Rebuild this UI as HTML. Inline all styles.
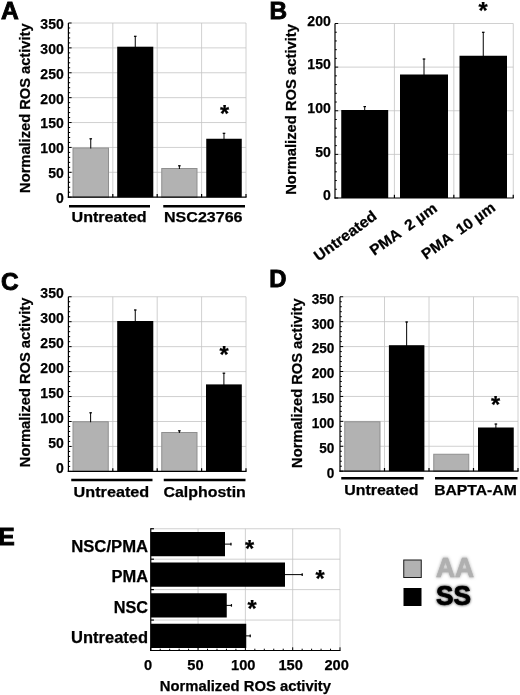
<!DOCTYPE html>
<html><head><meta charset="utf-8"><title>ROS activity</title>
<style>
html,body{margin:0;padding:0;background:#fff;}
body{width:520px;height:695px;overflow:hidden;}
svg{display:block;filter:blur(0.35px);}
svg text{font-family:"Liberation Sans",sans-serif;font-weight:bold;stroke:#000;stroke-width:0.25px;}
</style></head><body>
<svg width="520" height="695" viewBox="0 0 520 695">
<defs><filter id="blur1" x="-20%" y="-20%" width="140%" height="140%"><feGaussianBlur stdDeviation="1.6"/></filter></defs>
<rect x="0" y="0" width="520" height="695" fill="#fff"/>
<line x1="68.40" y1="172.31" x2="246.00" y2="172.31" stroke="#c4c4c4" stroke-width="0.8"/>
<line x1="68.40" y1="147.43" x2="246.00" y2="147.43" stroke="#c4c4c4" stroke-width="0.8"/>
<line x1="68.40" y1="122.54" x2="246.00" y2="122.54" stroke="#c4c4c4" stroke-width="0.8"/>
<line x1="68.40" y1="97.66" x2="246.00" y2="97.66" stroke="#c4c4c4" stroke-width="0.8"/>
<line x1="68.40" y1="72.77" x2="246.00" y2="72.77" stroke="#c4c4c4" stroke-width="0.8"/>
<line x1="68.40" y1="47.89" x2="246.00" y2="47.89" stroke="#c4c4c4" stroke-width="0.8"/>
<line x1="68.40" y1="23.00" x2="246.00" y2="23.00" stroke="#c4c4c4" stroke-width="0.8"/>
<line x1="112.80" y1="23.00" x2="112.80" y2="197.20" stroke="#c4c4c4" stroke-width="0.8"/>
<line x1="157.20" y1="23.00" x2="157.20" y2="197.20" stroke="#c4c4c4" stroke-width="0.8"/>
<line x1="201.60" y1="23.00" x2="201.60" y2="197.20" stroke="#c4c4c4" stroke-width="0.8"/>
<line x1="246.00" y1="23.00" x2="246.00" y2="197.20" stroke="#c4c4c4" stroke-width="0.8"/>
<rect x="73.00" y="148.00" width="35.50" height="49.20" fill="#b2b2b2" stroke="#8f8f8f" stroke-width="1"/>
<line x1="90.75" y1="148.50" x2="90.75" y2="138.50" stroke="#000" stroke-width="1"/>
<line x1="89.45" y1="138.80" x2="92.05" y2="138.80" stroke="#000" stroke-width="1.2"/>
<rect x="117.20" y="46.70" width="36.10" height="150.50" fill="#000"/>
<line x1="135.25" y1="47.70" x2="135.25" y2="36.00" stroke="#000" stroke-width="1"/>
<line x1="133.95" y1="36.30" x2="136.55" y2="36.30" stroke="#000" stroke-width="1.2"/>
<rect x="161.75" y="168.50" width="35.25" height="28.70" fill="#b2b2b2" stroke="#8f8f8f" stroke-width="1"/>
<line x1="179.38" y1="169.00" x2="179.38" y2="165.50" stroke="#000" stroke-width="1"/>
<line x1="178.07" y1="165.80" x2="180.68" y2="165.80" stroke="#000" stroke-width="1.2"/>
<rect x="206.25" y="138.75" width="35.50" height="58.45" fill="#000"/>
<line x1="224.00" y1="139.75" x2="224.00" y2="133.00" stroke="#000" stroke-width="1"/>
<line x1="222.70" y1="133.30" x2="225.30" y2="133.30" stroke="#000" stroke-width="1.2"/>
<line x1="68.40" y1="23.00" x2="68.40" y2="197.80" stroke="#000" stroke-width="1.2"/>
<line x1="67.80" y1="197.20" x2="246.50" y2="197.20" stroke="#000" stroke-width="1.2"/>
<line x1="68.40" y1="197.20" x2="71.60" y2="197.20" stroke="#000" stroke-width="1"/>
<line x1="68.40" y1="192.22" x2="70.20" y2="192.22" stroke="#000" stroke-width="1"/>
<line x1="68.40" y1="187.25" x2="70.20" y2="187.25" stroke="#000" stroke-width="1"/>
<line x1="68.40" y1="182.27" x2="70.20" y2="182.27" stroke="#000" stroke-width="1"/>
<line x1="68.40" y1="177.29" x2="70.20" y2="177.29" stroke="#000" stroke-width="1"/>
<line x1="68.40" y1="172.31" x2="71.60" y2="172.31" stroke="#000" stroke-width="1"/>
<line x1="68.40" y1="167.34" x2="70.20" y2="167.34" stroke="#000" stroke-width="1"/>
<line x1="68.40" y1="162.36" x2="70.20" y2="162.36" stroke="#000" stroke-width="1"/>
<line x1="68.40" y1="157.38" x2="70.20" y2="157.38" stroke="#000" stroke-width="1"/>
<line x1="68.40" y1="152.41" x2="70.20" y2="152.41" stroke="#000" stroke-width="1"/>
<line x1="68.40" y1="147.43" x2="71.60" y2="147.43" stroke="#000" stroke-width="1"/>
<line x1="68.40" y1="142.45" x2="70.20" y2="142.45" stroke="#000" stroke-width="1"/>
<line x1="68.40" y1="137.47" x2="70.20" y2="137.47" stroke="#000" stroke-width="1"/>
<line x1="68.40" y1="132.50" x2="70.20" y2="132.50" stroke="#000" stroke-width="1"/>
<line x1="68.40" y1="127.52" x2="70.20" y2="127.52" stroke="#000" stroke-width="1"/>
<line x1="68.40" y1="122.54" x2="71.60" y2="122.54" stroke="#000" stroke-width="1"/>
<line x1="68.40" y1="117.57" x2="70.20" y2="117.57" stroke="#000" stroke-width="1"/>
<line x1="68.40" y1="112.59" x2="70.20" y2="112.59" stroke="#000" stroke-width="1"/>
<line x1="68.40" y1="107.61" x2="70.20" y2="107.61" stroke="#000" stroke-width="1"/>
<line x1="68.40" y1="102.63" x2="70.20" y2="102.63" stroke="#000" stroke-width="1"/>
<line x1="68.40" y1="97.66" x2="71.60" y2="97.66" stroke="#000" stroke-width="1"/>
<line x1="68.40" y1="92.68" x2="70.20" y2="92.68" stroke="#000" stroke-width="1"/>
<line x1="68.40" y1="87.70" x2="70.20" y2="87.70" stroke="#000" stroke-width="1"/>
<line x1="68.40" y1="82.73" x2="70.20" y2="82.73" stroke="#000" stroke-width="1"/>
<line x1="68.40" y1="77.75" x2="70.20" y2="77.75" stroke="#000" stroke-width="1"/>
<line x1="68.40" y1="72.77" x2="71.60" y2="72.77" stroke="#000" stroke-width="1"/>
<line x1="68.40" y1="67.79" x2="70.20" y2="67.79" stroke="#000" stroke-width="1"/>
<line x1="68.40" y1="62.82" x2="70.20" y2="62.82" stroke="#000" stroke-width="1"/>
<line x1="68.40" y1="57.84" x2="70.20" y2="57.84" stroke="#000" stroke-width="1"/>
<line x1="68.40" y1="52.86" x2="70.20" y2="52.86" stroke="#000" stroke-width="1"/>
<line x1="68.40" y1="47.89" x2="71.60" y2="47.89" stroke="#000" stroke-width="1"/>
<line x1="68.40" y1="42.91" x2="70.20" y2="42.91" stroke="#000" stroke-width="1"/>
<line x1="68.40" y1="37.93" x2="70.20" y2="37.93" stroke="#000" stroke-width="1"/>
<line x1="68.40" y1="32.95" x2="70.20" y2="32.95" stroke="#000" stroke-width="1"/>
<line x1="68.40" y1="27.98" x2="70.20" y2="27.98" stroke="#000" stroke-width="1"/>
<line x1="68.40" y1="23.00" x2="71.60" y2="23.00" stroke="#000" stroke-width="1"/>
<line x1="112.80" y1="197.20" x2="112.80" y2="194.00" stroke="#000" stroke-width="1.2"/>
<line x1="157.20" y1="197.20" x2="157.20" y2="194.00" stroke="#000" stroke-width="1.2"/>
<line x1="201.60" y1="197.20" x2="201.60" y2="194.00" stroke="#000" stroke-width="1.2"/>
<line x1="246.00" y1="197.20" x2="246.00" y2="194.00" stroke="#000" stroke-width="1.2"/>
<text x="63.75" y="203.10" font-size="15" text-anchor="end" textLength="7.80" lengthAdjust="spacingAndGlyphs" fill="#000">0</text>
<text x="63.75" y="178.21" font-size="15" text-anchor="end" textLength="15.60" lengthAdjust="spacingAndGlyphs" fill="#000">50</text>
<text x="63.75" y="153.33" font-size="15" text-anchor="end" textLength="23.40" lengthAdjust="spacingAndGlyphs" fill="#000">100</text>
<text x="63.75" y="128.44" font-size="15" text-anchor="end" textLength="23.40" lengthAdjust="spacingAndGlyphs" fill="#000">150</text>
<text x="63.75" y="103.56" font-size="15" text-anchor="end" textLength="23.40" lengthAdjust="spacingAndGlyphs" fill="#000">200</text>
<text x="63.75" y="78.67" font-size="15" text-anchor="end" textLength="23.40" lengthAdjust="spacingAndGlyphs" fill="#000">250</text>
<text x="63.75" y="53.79" font-size="15" text-anchor="end" textLength="23.40" lengthAdjust="spacingAndGlyphs" fill="#000">300</text>
<text x="63.75" y="28.90" font-size="15" text-anchor="end" textLength="23.40" lengthAdjust="spacingAndGlyphs" fill="#000">350</text>
<text x="224.50" y="122.28" font-size="23.5" text-anchor="middle" fill="#000">*</text>
<line x1="69.00" y1="206.30" x2="150.00" y2="206.30" stroke="#000" stroke-width="2.5"/>
<line x1="163.25" y1="206.30" x2="245.00" y2="206.30" stroke="#000" stroke-width="2.5"/>
<text x="71.50" y="222.30" font-size="15.5" text-anchor="start" textLength="75.20" lengthAdjust="spacingAndGlyphs" fill="#000">Untreated</text>
<text x="164.00" y="222.20" font-size="15.5" text-anchor="start" textLength="78.50" lengthAdjust="spacingAndGlyphs" fill="#000">NSC23766</text>
<text transform="translate(30.30,192.90) rotate(-90)" font-size="15.2" textLength="169.50" lengthAdjust="spacingAndGlyphs">Normalized ROS activity</text>
<text x="0.90" y="19.30" font-size="24.8" text-anchor="start" textLength="17.80" lengthAdjust="spacingAndGlyphs" fill="#000" style="stroke-width:0.9px">A</text>
<line x1="335.00" y1="154.38" x2="513.25" y2="154.38" stroke="#c4c4c4" stroke-width="0.8"/>
<line x1="335.00" y1="110.75" x2="513.25" y2="110.75" stroke="#c4c4c4" stroke-width="0.8"/>
<line x1="335.00" y1="67.12" x2="513.25" y2="67.12" stroke="#c4c4c4" stroke-width="0.8"/>
<line x1="335.00" y1="23.50" x2="513.25" y2="23.50" stroke="#c4c4c4" stroke-width="0.8"/>
<line x1="394.42" y1="23.50" x2="394.42" y2="198.00" stroke="#c4c4c4" stroke-width="0.8"/>
<line x1="453.83" y1="23.50" x2="453.83" y2="198.00" stroke="#c4c4c4" stroke-width="0.8"/>
<line x1="513.25" y1="23.50" x2="513.25" y2="198.00" stroke="#c4c4c4" stroke-width="0.8"/>
<rect x="341.25" y="110.00" width="46.95" height="88.00" fill="#000"/>
<line x1="364.73" y1="111.00" x2="364.73" y2="106.30" stroke="#000" stroke-width="1"/>
<line x1="363.43" y1="106.60" x2="366.03" y2="106.60" stroke="#000" stroke-width="1.2"/>
<rect x="400.00" y="74.50" width="48.00" height="123.50" fill="#000"/>
<line x1="424.00" y1="75.50" x2="424.00" y2="58.75" stroke="#000" stroke-width="1"/>
<line x1="422.70" y1="59.05" x2="425.30" y2="59.05" stroke="#000" stroke-width="1.2"/>
<rect x="459.50" y="55.75" width="47.50" height="142.25" fill="#000"/>
<line x1="483.25" y1="56.75" x2="483.25" y2="32.00" stroke="#000" stroke-width="1"/>
<line x1="481.95" y1="32.30" x2="484.55" y2="32.30" stroke="#000" stroke-width="1.2"/>
<line x1="335.00" y1="23.50" x2="335.00" y2="198.60" stroke="#000" stroke-width="1.2"/>
<line x1="334.40" y1="198.00" x2="513.75" y2="198.00" stroke="#000" stroke-width="1.2"/>
<line x1="335.00" y1="198.00" x2="338.20" y2="198.00" stroke="#000" stroke-width="1"/>
<line x1="335.00" y1="189.28" x2="336.80" y2="189.28" stroke="#000" stroke-width="1"/>
<line x1="335.00" y1="180.55" x2="336.80" y2="180.55" stroke="#000" stroke-width="1"/>
<line x1="335.00" y1="171.82" x2="336.80" y2="171.82" stroke="#000" stroke-width="1"/>
<line x1="335.00" y1="163.10" x2="336.80" y2="163.10" stroke="#000" stroke-width="1"/>
<line x1="335.00" y1="154.38" x2="338.20" y2="154.38" stroke="#000" stroke-width="1"/>
<line x1="335.00" y1="145.65" x2="336.80" y2="145.65" stroke="#000" stroke-width="1"/>
<line x1="335.00" y1="136.93" x2="336.80" y2="136.93" stroke="#000" stroke-width="1"/>
<line x1="335.00" y1="128.20" x2="336.80" y2="128.20" stroke="#000" stroke-width="1"/>
<line x1="335.00" y1="119.47" x2="336.80" y2="119.47" stroke="#000" stroke-width="1"/>
<line x1="335.00" y1="110.75" x2="338.20" y2="110.75" stroke="#000" stroke-width="1"/>
<line x1="335.00" y1="102.03" x2="336.80" y2="102.03" stroke="#000" stroke-width="1"/>
<line x1="335.00" y1="93.30" x2="336.80" y2="93.30" stroke="#000" stroke-width="1"/>
<line x1="335.00" y1="84.58" x2="336.80" y2="84.58" stroke="#000" stroke-width="1"/>
<line x1="335.00" y1="75.85" x2="336.80" y2="75.85" stroke="#000" stroke-width="1"/>
<line x1="335.00" y1="67.12" x2="338.20" y2="67.12" stroke="#000" stroke-width="1"/>
<line x1="335.00" y1="58.40" x2="336.80" y2="58.40" stroke="#000" stroke-width="1"/>
<line x1="335.00" y1="49.68" x2="336.80" y2="49.68" stroke="#000" stroke-width="1"/>
<line x1="335.00" y1="40.95" x2="336.80" y2="40.95" stroke="#000" stroke-width="1"/>
<line x1="335.00" y1="32.22" x2="336.80" y2="32.22" stroke="#000" stroke-width="1"/>
<line x1="335.00" y1="23.50" x2="338.20" y2="23.50" stroke="#000" stroke-width="1"/>
<line x1="394.42" y1="198.00" x2="394.42" y2="194.80" stroke="#000" stroke-width="1.2"/>
<line x1="453.83" y1="198.00" x2="453.83" y2="194.80" stroke="#000" stroke-width="1.2"/>
<line x1="513.25" y1="198.00" x2="513.25" y2="194.80" stroke="#000" stroke-width="1.2"/>
<text x="330.75" y="200.30" font-size="15" text-anchor="end" textLength="7.80" lengthAdjust="spacingAndGlyphs" fill="#000">0</text>
<text x="330.75" y="156.68" font-size="15" text-anchor="end" textLength="15.60" lengthAdjust="spacingAndGlyphs" fill="#000">50</text>
<text x="330.75" y="113.05" font-size="15" text-anchor="end" textLength="23.40" lengthAdjust="spacingAndGlyphs" fill="#000">100</text>
<text x="330.75" y="69.43" font-size="15" text-anchor="end" textLength="23.40" lengthAdjust="spacingAndGlyphs" fill="#000">150</text>
<text x="330.75" y="25.80" font-size="15" text-anchor="end" textLength="23.40" lengthAdjust="spacingAndGlyphs" fill="#000">200</text>
<text x="483.00" y="18.78" font-size="23.5" text-anchor="middle" fill="#000">*</text>
<text transform="translate(296.40,194.80) rotate(-90)" font-size="15.2" textLength="170.80" lengthAdjust="spacingAndGlyphs">Normalized ROS activity</text>
<text x="269.40" y="19.40" font-size="24.8" text-anchor="start" textLength="17.60" lengthAdjust="spacingAndGlyphs" fill="#000" style="stroke-width:0.9px">B</text>
<text transform="translate(318.50,261.70) rotate(-36.3)" font-size="15" textLength="73.60" lengthAdjust="spacingAndGlyphs" xml:space="preserve">Untreated</text>
<text transform="translate(374.20,256.10) rotate(-35.5)" font-size="15" textLength="78.60" lengthAdjust="spacingAndGlyphs" xml:space="preserve">PMA  2 µm</text>
<text transform="translate(426.00,260.00) rotate(-35.5)" font-size="15" textLength="86.60" lengthAdjust="spacingAndGlyphs" xml:space="preserve">PMA  10 µm</text>
<line x1="68.40" y1="446.45" x2="246.00" y2="446.45" stroke="#c4c4c4" stroke-width="0.8"/>
<line x1="68.40" y1="421.50" x2="246.00" y2="421.50" stroke="#c4c4c4" stroke-width="0.8"/>
<line x1="68.40" y1="396.55" x2="246.00" y2="396.55" stroke="#c4c4c4" stroke-width="0.8"/>
<line x1="68.40" y1="371.60" x2="246.00" y2="371.60" stroke="#c4c4c4" stroke-width="0.8"/>
<line x1="68.40" y1="346.65" x2="246.00" y2="346.65" stroke="#c4c4c4" stroke-width="0.8"/>
<line x1="68.40" y1="321.70" x2="246.00" y2="321.70" stroke="#c4c4c4" stroke-width="0.8"/>
<line x1="68.40" y1="296.75" x2="246.00" y2="296.75" stroke="#c4c4c4" stroke-width="0.8"/>
<line x1="112.80" y1="296.75" x2="112.80" y2="471.40" stroke="#c4c4c4" stroke-width="0.8"/>
<line x1="157.20" y1="296.75" x2="157.20" y2="471.40" stroke="#c4c4c4" stroke-width="0.8"/>
<line x1="201.60" y1="296.75" x2="201.60" y2="471.40" stroke="#c4c4c4" stroke-width="0.8"/>
<line x1="246.00" y1="296.75" x2="246.00" y2="471.40" stroke="#c4c4c4" stroke-width="0.8"/>
<rect x="73.00" y="421.75" width="35.25" height="49.65" fill="#b2b2b2" stroke="#8f8f8f" stroke-width="1"/>
<line x1="90.62" y1="422.25" x2="90.62" y2="412.50" stroke="#000" stroke-width="1"/>
<line x1="89.33" y1="412.80" x2="91.92" y2="412.80" stroke="#000" stroke-width="1.2"/>
<rect x="117.20" y="321.00" width="36.10" height="150.40" fill="#000"/>
<line x1="135.25" y1="322.00" x2="135.25" y2="309.70" stroke="#000" stroke-width="1"/>
<line x1="133.95" y1="310.00" x2="136.55" y2="310.00" stroke="#000" stroke-width="1.2"/>
<rect x="161.75" y="432.50" width="35.25" height="38.90" fill="#b2b2b2" stroke="#8f8f8f" stroke-width="1"/>
<line x1="179.38" y1="433.00" x2="179.38" y2="430.50" stroke="#000" stroke-width="1"/>
<line x1="178.07" y1="430.80" x2="180.68" y2="430.80" stroke="#000" stroke-width="1.2"/>
<rect x="206.00" y="384.40" width="35.80" height="87.00" fill="#000"/>
<line x1="223.90" y1="385.40" x2="223.90" y2="372.90" stroke="#000" stroke-width="1"/>
<line x1="222.60" y1="373.20" x2="225.20" y2="373.20" stroke="#000" stroke-width="1.2"/>
<line x1="68.40" y1="296.75" x2="68.40" y2="472.00" stroke="#000" stroke-width="1.2"/>
<line x1="67.80" y1="471.40" x2="246.50" y2="471.40" stroke="#000" stroke-width="1.2"/>
<line x1="68.40" y1="471.40" x2="71.60" y2="471.40" stroke="#000" stroke-width="1"/>
<line x1="68.40" y1="466.41" x2="70.20" y2="466.41" stroke="#000" stroke-width="1"/>
<line x1="68.40" y1="461.42" x2="70.20" y2="461.42" stroke="#000" stroke-width="1"/>
<line x1="68.40" y1="456.43" x2="70.20" y2="456.43" stroke="#000" stroke-width="1"/>
<line x1="68.40" y1="451.44" x2="70.20" y2="451.44" stroke="#000" stroke-width="1"/>
<line x1="68.40" y1="446.45" x2="71.60" y2="446.45" stroke="#000" stroke-width="1"/>
<line x1="68.40" y1="441.46" x2="70.20" y2="441.46" stroke="#000" stroke-width="1"/>
<line x1="68.40" y1="436.47" x2="70.20" y2="436.47" stroke="#000" stroke-width="1"/>
<line x1="68.40" y1="431.48" x2="70.20" y2="431.48" stroke="#000" stroke-width="1"/>
<line x1="68.40" y1="426.49" x2="70.20" y2="426.49" stroke="#000" stroke-width="1"/>
<line x1="68.40" y1="421.50" x2="71.60" y2="421.50" stroke="#000" stroke-width="1"/>
<line x1="68.40" y1="416.51" x2="70.20" y2="416.51" stroke="#000" stroke-width="1"/>
<line x1="68.40" y1="411.52" x2="70.20" y2="411.52" stroke="#000" stroke-width="1"/>
<line x1="68.40" y1="406.53" x2="70.20" y2="406.53" stroke="#000" stroke-width="1"/>
<line x1="68.40" y1="401.54" x2="70.20" y2="401.54" stroke="#000" stroke-width="1"/>
<line x1="68.40" y1="396.55" x2="71.60" y2="396.55" stroke="#000" stroke-width="1"/>
<line x1="68.40" y1="391.56" x2="70.20" y2="391.56" stroke="#000" stroke-width="1"/>
<line x1="68.40" y1="386.57" x2="70.20" y2="386.57" stroke="#000" stroke-width="1"/>
<line x1="68.40" y1="381.58" x2="70.20" y2="381.58" stroke="#000" stroke-width="1"/>
<line x1="68.40" y1="376.59" x2="70.20" y2="376.59" stroke="#000" stroke-width="1"/>
<line x1="68.40" y1="371.60" x2="71.60" y2="371.60" stroke="#000" stroke-width="1"/>
<line x1="68.40" y1="366.61" x2="70.20" y2="366.61" stroke="#000" stroke-width="1"/>
<line x1="68.40" y1="361.62" x2="70.20" y2="361.62" stroke="#000" stroke-width="1"/>
<line x1="68.40" y1="356.63" x2="70.20" y2="356.63" stroke="#000" stroke-width="1"/>
<line x1="68.40" y1="351.64" x2="70.20" y2="351.64" stroke="#000" stroke-width="1"/>
<line x1="68.40" y1="346.65" x2="71.60" y2="346.65" stroke="#000" stroke-width="1"/>
<line x1="68.40" y1="341.66" x2="70.20" y2="341.66" stroke="#000" stroke-width="1"/>
<line x1="68.40" y1="336.67" x2="70.20" y2="336.67" stroke="#000" stroke-width="1"/>
<line x1="68.40" y1="331.68" x2="70.20" y2="331.68" stroke="#000" stroke-width="1"/>
<line x1="68.40" y1="326.69" x2="70.20" y2="326.69" stroke="#000" stroke-width="1"/>
<line x1="68.40" y1="321.70" x2="71.60" y2="321.70" stroke="#000" stroke-width="1"/>
<line x1="68.40" y1="316.71" x2="70.20" y2="316.71" stroke="#000" stroke-width="1"/>
<line x1="68.40" y1="311.72" x2="70.20" y2="311.72" stroke="#000" stroke-width="1"/>
<line x1="68.40" y1="306.73" x2="70.20" y2="306.73" stroke="#000" stroke-width="1"/>
<line x1="68.40" y1="301.74" x2="70.20" y2="301.74" stroke="#000" stroke-width="1"/>
<line x1="68.40" y1="296.75" x2="71.60" y2="296.75" stroke="#000" stroke-width="1"/>
<line x1="112.80" y1="471.40" x2="112.80" y2="468.20" stroke="#000" stroke-width="1.2"/>
<line x1="157.20" y1="471.40" x2="157.20" y2="468.20" stroke="#000" stroke-width="1.2"/>
<line x1="201.60" y1="471.40" x2="201.60" y2="468.20" stroke="#000" stroke-width="1.2"/>
<line x1="246.00" y1="471.40" x2="246.00" y2="468.20" stroke="#000" stroke-width="1.2"/>
<text x="63.75" y="473.00" font-size="15" text-anchor="end" textLength="7.80" lengthAdjust="spacingAndGlyphs" fill="#000">0</text>
<text x="63.75" y="448.05" font-size="15" text-anchor="end" textLength="15.60" lengthAdjust="spacingAndGlyphs" fill="#000">50</text>
<text x="63.75" y="423.10" font-size="15" text-anchor="end" textLength="23.40" lengthAdjust="spacingAndGlyphs" fill="#000">100</text>
<text x="63.75" y="398.15" font-size="15" text-anchor="end" textLength="23.40" lengthAdjust="spacingAndGlyphs" fill="#000">150</text>
<text x="63.75" y="373.20" font-size="15" text-anchor="end" textLength="23.40" lengthAdjust="spacingAndGlyphs" fill="#000">200</text>
<text x="63.75" y="348.25" font-size="15" text-anchor="end" textLength="23.40" lengthAdjust="spacingAndGlyphs" fill="#000">250</text>
<text x="63.75" y="323.30" font-size="15" text-anchor="end" textLength="23.40" lengthAdjust="spacingAndGlyphs" fill="#000">300</text>
<text x="63.75" y="298.35" font-size="15" text-anchor="end" textLength="23.40" lengthAdjust="spacingAndGlyphs" fill="#000">350</text>
<text x="224.00" y="363.28" font-size="23.5" text-anchor="middle" fill="#000">*</text>
<line x1="71.25" y1="480.00" x2="152.50" y2="480.00" stroke="#000" stroke-width="2.5"/>
<line x1="163.75" y1="480.00" x2="245.50" y2="480.00" stroke="#000" stroke-width="2.5"/>
<text x="73.60" y="497.00" font-size="15.5" text-anchor="start" textLength="75.60" lengthAdjust="spacingAndGlyphs" fill="#000">Untreated</text>
<text x="163.50" y="497.00" font-size="15.5" text-anchor="start" textLength="82.30" lengthAdjust="spacingAndGlyphs" fill="#000">Calphostin</text>
<text transform="translate(29.90,467.20) rotate(-90)" font-size="15.2" textLength="169.60" lengthAdjust="spacingAndGlyphs">Normalized ROS activity</text>
<text x="1.00" y="289.50" font-size="24.8" text-anchor="start" textLength="17.60" lengthAdjust="spacingAndGlyphs" fill="#000" style="stroke-width:0.9px">C</text>
<line x1="340.00" y1="446.28" x2="518.00" y2="446.28" stroke="#c4c4c4" stroke-width="0.8"/>
<line x1="340.00" y1="421.36" x2="518.00" y2="421.36" stroke="#c4c4c4" stroke-width="0.8"/>
<line x1="340.00" y1="396.44" x2="518.00" y2="396.44" stroke="#c4c4c4" stroke-width="0.8"/>
<line x1="340.00" y1="371.51" x2="518.00" y2="371.51" stroke="#c4c4c4" stroke-width="0.8"/>
<line x1="340.00" y1="346.59" x2="518.00" y2="346.59" stroke="#c4c4c4" stroke-width="0.8"/>
<line x1="340.00" y1="321.67" x2="518.00" y2="321.67" stroke="#c4c4c4" stroke-width="0.8"/>
<line x1="340.00" y1="296.75" x2="518.00" y2="296.75" stroke="#c4c4c4" stroke-width="0.8"/>
<line x1="384.50" y1="296.75" x2="384.50" y2="471.20" stroke="#c4c4c4" stroke-width="0.8"/>
<line x1="429.00" y1="296.75" x2="429.00" y2="471.20" stroke="#c4c4c4" stroke-width="0.8"/>
<line x1="473.50" y1="296.75" x2="473.50" y2="471.20" stroke="#c4c4c4" stroke-width="0.8"/>
<line x1="518.00" y1="296.75" x2="518.00" y2="471.20" stroke="#c4c4c4" stroke-width="0.8"/>
<rect x="344.75" y="421.75" width="35.25" height="49.45" fill="#b2b2b2" stroke="#8f8f8f" stroke-width="1"/>
<rect x="388.90" y="345.20" width="35.50" height="126.00" fill="#000"/>
<line x1="406.65" y1="346.20" x2="406.65" y2="321.70" stroke="#000" stroke-width="1"/>
<line x1="405.35" y1="322.00" x2="407.95" y2="322.00" stroke="#000" stroke-width="1.2"/>
<rect x="433.75" y="454.25" width="35.00" height="16.95" fill="#b2b2b2" stroke="#8f8f8f" stroke-width="1"/>
<rect x="478.00" y="427.50" width="35.75" height="43.70" fill="#000"/>
<line x1="495.88" y1="428.50" x2="495.88" y2="423.75" stroke="#000" stroke-width="1"/>
<line x1="494.57" y1="424.05" x2="497.18" y2="424.05" stroke="#000" stroke-width="1.2"/>
<line x1="340.00" y1="296.75" x2="340.00" y2="471.80" stroke="#000" stroke-width="1.2"/>
<line x1="339.40" y1="471.20" x2="518.50" y2="471.20" stroke="#000" stroke-width="1.2"/>
<line x1="340.00" y1="471.20" x2="343.20" y2="471.20" stroke="#000" stroke-width="1"/>
<line x1="340.00" y1="466.22" x2="341.80" y2="466.22" stroke="#000" stroke-width="1"/>
<line x1="340.00" y1="461.23" x2="341.80" y2="461.23" stroke="#000" stroke-width="1"/>
<line x1="340.00" y1="456.25" x2="341.80" y2="456.25" stroke="#000" stroke-width="1"/>
<line x1="340.00" y1="451.26" x2="341.80" y2="451.26" stroke="#000" stroke-width="1"/>
<line x1="340.00" y1="446.28" x2="343.20" y2="446.28" stroke="#000" stroke-width="1"/>
<line x1="340.00" y1="441.29" x2="341.80" y2="441.29" stroke="#000" stroke-width="1"/>
<line x1="340.00" y1="436.31" x2="341.80" y2="436.31" stroke="#000" stroke-width="1"/>
<line x1="340.00" y1="431.33" x2="341.80" y2="431.33" stroke="#000" stroke-width="1"/>
<line x1="340.00" y1="426.34" x2="341.80" y2="426.34" stroke="#000" stroke-width="1"/>
<line x1="340.00" y1="421.36" x2="343.20" y2="421.36" stroke="#000" stroke-width="1"/>
<line x1="340.00" y1="416.37" x2="341.80" y2="416.37" stroke="#000" stroke-width="1"/>
<line x1="340.00" y1="411.39" x2="341.80" y2="411.39" stroke="#000" stroke-width="1"/>
<line x1="340.00" y1="406.40" x2="341.80" y2="406.40" stroke="#000" stroke-width="1"/>
<line x1="340.00" y1="401.42" x2="341.80" y2="401.42" stroke="#000" stroke-width="1"/>
<line x1="340.00" y1="396.44" x2="343.20" y2="396.44" stroke="#000" stroke-width="1"/>
<line x1="340.00" y1="391.45" x2="341.80" y2="391.45" stroke="#000" stroke-width="1"/>
<line x1="340.00" y1="386.47" x2="341.80" y2="386.47" stroke="#000" stroke-width="1"/>
<line x1="340.00" y1="381.48" x2="341.80" y2="381.48" stroke="#000" stroke-width="1"/>
<line x1="340.00" y1="376.50" x2="341.80" y2="376.50" stroke="#000" stroke-width="1"/>
<line x1="340.00" y1="371.51" x2="343.20" y2="371.51" stroke="#000" stroke-width="1"/>
<line x1="340.00" y1="366.53" x2="341.80" y2="366.53" stroke="#000" stroke-width="1"/>
<line x1="340.00" y1="361.55" x2="341.80" y2="361.55" stroke="#000" stroke-width="1"/>
<line x1="340.00" y1="356.56" x2="341.80" y2="356.56" stroke="#000" stroke-width="1"/>
<line x1="340.00" y1="351.58" x2="341.80" y2="351.58" stroke="#000" stroke-width="1"/>
<line x1="340.00" y1="346.59" x2="343.20" y2="346.59" stroke="#000" stroke-width="1"/>
<line x1="340.00" y1="341.61" x2="341.80" y2="341.61" stroke="#000" stroke-width="1"/>
<line x1="340.00" y1="336.62" x2="341.80" y2="336.62" stroke="#000" stroke-width="1"/>
<line x1="340.00" y1="331.64" x2="341.80" y2="331.64" stroke="#000" stroke-width="1"/>
<line x1="340.00" y1="326.66" x2="341.80" y2="326.66" stroke="#000" stroke-width="1"/>
<line x1="340.00" y1="321.67" x2="343.20" y2="321.67" stroke="#000" stroke-width="1"/>
<line x1="340.00" y1="316.69" x2="341.80" y2="316.69" stroke="#000" stroke-width="1"/>
<line x1="340.00" y1="311.70" x2="341.80" y2="311.70" stroke="#000" stroke-width="1"/>
<line x1="340.00" y1="306.72" x2="341.80" y2="306.72" stroke="#000" stroke-width="1"/>
<line x1="340.00" y1="301.73" x2="341.80" y2="301.73" stroke="#000" stroke-width="1"/>
<line x1="340.00" y1="296.75" x2="343.20" y2="296.75" stroke="#000" stroke-width="1"/>
<line x1="384.50" y1="471.20" x2="384.50" y2="468.00" stroke="#000" stroke-width="1.2"/>
<line x1="429.00" y1="471.20" x2="429.00" y2="468.00" stroke="#000" stroke-width="1.2"/>
<line x1="473.50" y1="471.20" x2="473.50" y2="468.00" stroke="#000" stroke-width="1.2"/>
<line x1="518.00" y1="471.20" x2="518.00" y2="468.00" stroke="#000" stroke-width="1.2"/>
<text x="334.40" y="478.10" font-size="15" text-anchor="end" textLength="7.55" lengthAdjust="spacingAndGlyphs" fill="#000">0</text>
<text x="334.40" y="453.18" font-size="15" text-anchor="end" textLength="15.10" lengthAdjust="spacingAndGlyphs" fill="#000">50</text>
<text x="334.40" y="428.26" font-size="15" text-anchor="end" textLength="22.65" lengthAdjust="spacingAndGlyphs" fill="#000">100</text>
<text x="334.40" y="403.34" font-size="15" text-anchor="end" textLength="22.65" lengthAdjust="spacingAndGlyphs" fill="#000">150</text>
<text x="334.40" y="378.41" font-size="15" text-anchor="end" textLength="22.65" lengthAdjust="spacingAndGlyphs" fill="#000">200</text>
<text x="334.40" y="353.49" font-size="15" text-anchor="end" textLength="22.65" lengthAdjust="spacingAndGlyphs" fill="#000">250</text>
<text x="334.40" y="328.57" font-size="15" text-anchor="end" textLength="22.65" lengthAdjust="spacingAndGlyphs" fill="#000">300</text>
<text x="334.40" y="303.65" font-size="15" text-anchor="end" textLength="22.65" lengthAdjust="spacingAndGlyphs" fill="#000">350</text>
<text x="495.50" y="413.03" font-size="23.5" text-anchor="middle" fill="#000">*</text>
<line x1="341.25" y1="478.25" x2="423.75" y2="478.25" stroke="#000" stroke-width="2.5"/>
<line x1="435.00" y1="478.25" x2="517.50" y2="478.25" stroke="#000" stroke-width="2.5"/>
<text x="344.30" y="495.00" font-size="15.5" text-anchor="start" textLength="74.20" lengthAdjust="spacingAndGlyphs" fill="#000">Untreated</text>
<text x="434.20" y="495.00" font-size="15.5" text-anchor="start" textLength="82.60" lengthAdjust="spacingAndGlyphs" fill="#000">BAPTA-AM</text>
<text transform="translate(301.50,467.90) rotate(-90)" font-size="15.2" textLength="169.50" lengthAdjust="spacingAndGlyphs">Normalized ROS activity</text>
<text x="269.20" y="287.20" font-size="24.8" text-anchor="start" textLength="17.20" lengthAdjust="spacingAndGlyphs" fill="#000" style="stroke-width:0.9px">D</text>
<line x1="198.06" y1="528.75" x2="198.06" y2="650.50" stroke="#c4c4c4" stroke-width="0.8"/>
<line x1="245.38" y1="528.75" x2="245.38" y2="650.50" stroke="#c4c4c4" stroke-width="0.8"/>
<line x1="292.69" y1="528.75" x2="292.69" y2="650.50" stroke="#c4c4c4" stroke-width="0.8"/>
<line x1="340.00" y1="528.75" x2="340.00" y2="650.50" stroke="#c4c4c4" stroke-width="0.8"/>
<line x1="150.75" y1="528.75" x2="340.00" y2="528.75" stroke="#c4c4c4" stroke-width="0.8"/>
<line x1="150.75" y1="559.19" x2="340.00" y2="559.19" stroke="#c4c4c4" stroke-width="0.8"/>
<line x1="150.75" y1="589.62" x2="340.00" y2="589.62" stroke="#c4c4c4" stroke-width="0.8"/>
<line x1="150.75" y1="620.06" x2="340.00" y2="620.06" stroke="#c4c4c4" stroke-width="0.8"/>
<rect x="150.75" y="532.00" width="74.25" height="24.25" fill="#000"/>
<line x1="224.00" y1="544.12" x2="231.25" y2="544.12" stroke="#000" stroke-width="1"/>
<line x1="230.95" y1="542.83" x2="230.95" y2="545.42" stroke="#000" stroke-width="1.2"/>
<rect x="150.75" y="562.50" width="134.25" height="24.25" fill="#000"/>
<line x1="284.00" y1="574.62" x2="302.50" y2="574.62" stroke="#000" stroke-width="1"/>
<line x1="302.20" y1="573.33" x2="302.20" y2="575.92" stroke="#000" stroke-width="1.2"/>
<rect x="150.75" y="593.25" width="76.00" height="24.25" fill="#000"/>
<line x1="225.75" y1="605.38" x2="231.75" y2="605.38" stroke="#000" stroke-width="1"/>
<line x1="231.45" y1="604.08" x2="231.45" y2="606.67" stroke="#000" stroke-width="1.2"/>
<rect x="150.75" y="623.75" width="95.50" height="24.25" fill="#000"/>
<line x1="245.25" y1="635.88" x2="250.50" y2="635.88" stroke="#000" stroke-width="1"/>
<line x1="250.20" y1="634.58" x2="250.20" y2="637.17" stroke="#000" stroke-width="1.2"/>
<line x1="150.75" y1="528.25" x2="150.75" y2="651.10" stroke="#000" stroke-width="1.2"/>
<line x1="150.15" y1="650.50" x2="340.50" y2="650.50" stroke="#000" stroke-width="1.2"/>
<line x1="150.75" y1="559.19" x2="153.95" y2="559.19" stroke="#000" stroke-width="1.2"/>
<line x1="150.75" y1="589.62" x2="153.95" y2="589.62" stroke="#000" stroke-width="1.2"/>
<line x1="150.75" y1="620.06" x2="153.95" y2="620.06" stroke="#000" stroke-width="1.2"/>
<line x1="150.75" y1="528.75" x2="153.95" y2="528.75" stroke="#000" stroke-width="1.2"/>
<line x1="150.75" y1="650.50" x2="150.75" y2="647.30" stroke="#000" stroke-width="1"/>
<line x1="160.21" y1="650.50" x2="160.21" y2="648.70" stroke="#000" stroke-width="1"/>
<line x1="169.68" y1="650.50" x2="169.68" y2="648.70" stroke="#000" stroke-width="1"/>
<line x1="179.14" y1="650.50" x2="179.14" y2="648.70" stroke="#000" stroke-width="1"/>
<line x1="188.60" y1="650.50" x2="188.60" y2="648.70" stroke="#000" stroke-width="1"/>
<line x1="198.06" y1="650.50" x2="198.06" y2="647.30" stroke="#000" stroke-width="1"/>
<line x1="207.53" y1="650.50" x2="207.53" y2="648.70" stroke="#000" stroke-width="1"/>
<line x1="216.99" y1="650.50" x2="216.99" y2="648.70" stroke="#000" stroke-width="1"/>
<line x1="226.45" y1="650.50" x2="226.45" y2="648.70" stroke="#000" stroke-width="1"/>
<line x1="235.91" y1="650.50" x2="235.91" y2="648.70" stroke="#000" stroke-width="1"/>
<line x1="245.38" y1="650.50" x2="245.38" y2="647.30" stroke="#000" stroke-width="1"/>
<line x1="254.84" y1="650.50" x2="254.84" y2="648.70" stroke="#000" stroke-width="1"/>
<line x1="264.30" y1="650.50" x2="264.30" y2="648.70" stroke="#000" stroke-width="1"/>
<line x1="273.76" y1="650.50" x2="273.76" y2="648.70" stroke="#000" stroke-width="1"/>
<line x1="283.23" y1="650.50" x2="283.23" y2="648.70" stroke="#000" stroke-width="1"/>
<line x1="292.69" y1="650.50" x2="292.69" y2="647.30" stroke="#000" stroke-width="1"/>
<line x1="302.15" y1="650.50" x2="302.15" y2="648.70" stroke="#000" stroke-width="1"/>
<line x1="311.61" y1="650.50" x2="311.61" y2="648.70" stroke="#000" stroke-width="1"/>
<line x1="321.07" y1="650.50" x2="321.07" y2="648.70" stroke="#000" stroke-width="1"/>
<line x1="330.54" y1="650.50" x2="330.54" y2="648.70" stroke="#000" stroke-width="1"/>
<line x1="340.00" y1="650.50" x2="340.00" y2="647.30" stroke="#000" stroke-width="1"/>
<text x="249.50" y="556.78" font-size="23.5" text-anchor="middle" fill="#000">*</text>
<text x="320.00" y="586.78" font-size="23.5" text-anchor="middle" fill="#000">*</text>
<text x="252.00" y="617.28" font-size="23.5" text-anchor="middle" fill="#000">*</text>
<text x="148.10" y="551.50" font-size="16" text-anchor="end" textLength="76.90" lengthAdjust="spacingAndGlyphs" fill="#000">NSC/PMA</text>
<text x="148.10" y="582.30" font-size="16" text-anchor="end" textLength="36.60" lengthAdjust="spacingAndGlyphs" fill="#000">PMA</text>
<text x="148.10" y="612.50" font-size="16" text-anchor="end" textLength="34.30" lengthAdjust="spacingAndGlyphs" fill="#000">NSC</text>
<text x="148.10" y="642.70" font-size="16" text-anchor="end" textLength="77.00" lengthAdjust="spacingAndGlyphs" fill="#000">Untreated</text>
<text x="148.00" y="669.90" font-size="15.3" text-anchor="middle" textLength="8.15" lengthAdjust="spacingAndGlyphs" fill="#000">0</text>
<text x="195.50" y="669.90" font-size="15.3" text-anchor="middle" textLength="16.30" lengthAdjust="spacingAndGlyphs" fill="#000">50</text>
<text x="243.30" y="669.90" font-size="15.3" text-anchor="middle" textLength="24.45" lengthAdjust="spacingAndGlyphs" fill="#000">100</text>
<text x="290.60" y="669.90" font-size="15.3" text-anchor="middle" textLength="24.45" lengthAdjust="spacingAndGlyphs" fill="#000">150</text>
<text x="336.70" y="669.90" font-size="15.3" text-anchor="middle" textLength="24.45" lengthAdjust="spacingAndGlyphs" fill="#000">200</text>
<text x="159.70" y="690.60" font-size="15" text-anchor="start" textLength="171.30" lengthAdjust="spacingAndGlyphs" fill="#000">Normalized ROS activity</text>
<text x="-1.70" y="545.10" font-size="24.8" text-anchor="start" textLength="16.50" lengthAdjust="spacingAndGlyphs" fill="#000" style="stroke-width:0.9px">E</text>
<rect x="403.75" y="560.00" width="17.50" height="17.50" fill="#b2b2b2" stroke="#1a1a1a" stroke-width="1"/>
<rect x="403.50" y="588.00" width="18.00" height="18.00" fill="#000"/>
<g filter="url(#blur1)"><text x="436" y="577" font-size="27.5" textLength="38" lengthAdjust="spacingAndGlyphs" fill="#b0b0b0" style="stroke:#b0b0b0;stroke-width:1px">AA</text></g>
<text x="436" y="577" font-size="27.5" textLength="38" lengthAdjust="spacingAndGlyphs" fill="#b0b0b0" style="stroke:#b0b0b0;stroke-width:0.7px">AA</text>
<g filter="url(#blur1)"><text x="436" y="604.7" font-size="27.5" textLength="35" lengthAdjust="spacingAndGlyphs" fill="#000">SS</text></g>
<text x="436" y="604.7" font-size="27.5" textLength="35" lengthAdjust="spacingAndGlyphs" fill="#000" style="stroke-width:0.7px">SS</text>
</svg>
</body></html>
